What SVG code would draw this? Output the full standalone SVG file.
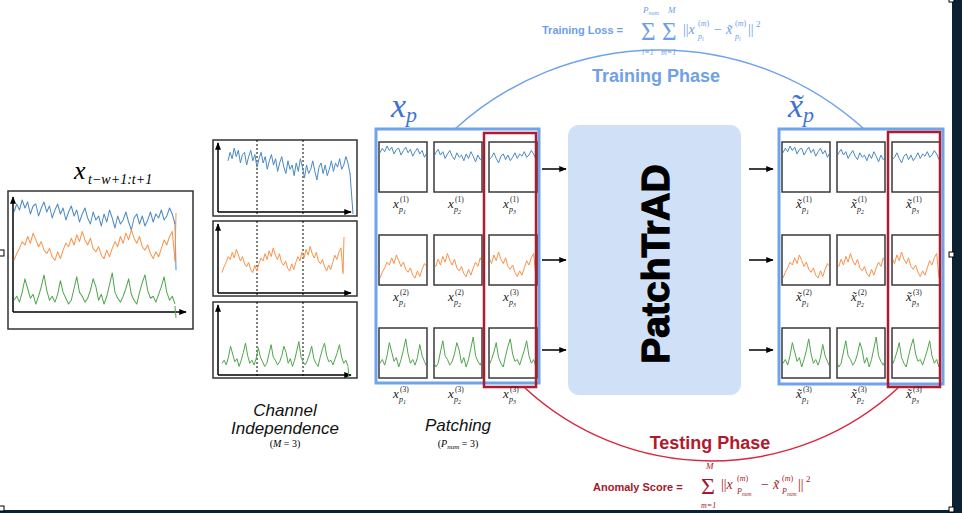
<svg xmlns="http://www.w3.org/2000/svg" xmlns:xlink="http://www.w3.org/1999/xlink" width="962" height="513" viewBox="0 0 962 513">
<style>
.ser{fill:none;stroke-width:1;vector-effect:non-scaling-stroke;stroke-linejoin:round}
.sb{stroke:#4a88c6}.so{stroke:#f9924a}.sg{stroke:#4ea64b}
.frame{fill:#fff;stroke:#333;stroke-width:1.5}
.pbox{fill:#fff;stroke:#3a3a3a;stroke-width:1.5}
.axis{stroke:#000;stroke-width:1.5;fill:none}
.dash{stroke:#000;stroke-width:1;stroke-dasharray:2,2}
.conn{stroke:#000;stroke-width:1.5;fill:none}
.mi{font-family:"Liberation Serif","DejaVu Serif",serif;font-style:italic}
.mr{font-family:"Liberation Serif","DejaVu Serif",serif}
.lab{font-family:"Liberation Serif","DejaVu Serif",serif;fill:#222}
.cap{font-family:"Liberation Sans",Arial,sans-serif;font-style:italic;font-size:17px;fill:#111}
.handle{fill:#fff;stroke:#000;stroke-width:1}
</style>
<defs>
<path id="sb" class="ser sb" d="M0,8 2,4 4,7 6,2 8,6 10,3 12,9 14,5 16,4 18,10 20,6 22,3 24,8 26,5 28,11 30,7 32,4 34,9 36,6 38,12 40,8 42,5 44,10 46,7 48,13 50,9 52,6 54,11 56,14 58,8 60,12 62,10 64,15 66,9 68,13 70,7 72,11 74,16 76,10 78,14 80,12 82,8 84,13 86,17 88,11 90,9 92,14 94,10 96,15 98,12 100,8 102,13 104,9 106,11 108,7 110,12 112,10 114,6 116,9 118,14"/>
<path id="so" class="ser so" d="M0,20 2,16 4,13 6,9 8,11 10,6 12,10 14,4 16,8 18,12 20,9 22,14 24,16 26,13 28,18 30,20 32,15 34,19 36,14 38,10 40,12 42,7 44,11 46,5 48,9 50,3 52,8 54,11 56,7 58,13 60,15 62,12 64,17 66,19 68,14 70,18 72,13 74,9 76,12 78,6 80,10 82,4 84,8 86,2 88,7 90,10 92,6 94,12 96,14 98,11 100,16 102,19 104,15 106,18 108,13 110,8 112,11 114,6 116,3 118,20"/>
<path id="sg" class="ser sg" d="M0,16 2,14 4,17 6,12 8,5 10,10 12,15 14,13 16,18 18,14 20,9 22,3 24,11 26,16 28,14 30,17 32,13 34,6 36,12 38,15 40,18 42,16 44,10 46,4 48,12 50,14 52,17 54,15 56,11 58,5 60,9 62,16 64,13 66,18 68,14 70,8 72,2 74,12 76,15 78,17 80,14 82,10 84,5 86,13 88,16 90,18 92,12 94,7 96,3 98,11 100,15 102,14 104,17 106,13 108,9 110,4 112,12 114,16 116,14 118,18"/>
<marker id="ah" viewBox="0 0 10 10" refX="9" refY="5" markerWidth="5" markerHeight="5" orient="auto"><path d="M0,1 L10,5 L0,9z" fill="#000"/></marker>
</defs>
<rect x="0" y="0" width="962" height="513" fill="#fff"/>

<!-- input series -->
<g id="input-series">
<rect class="frame" x="8" y="191" width="185" height="138"/>
<path class="axis" d="M13,312 V197" marker-end="url(#ah)"/>
<path class="axis" d="M13,312 H186" marker-end="url(#ah)"/>
<svg x="14" y="198" width="161" height="34" viewBox="0 1 118 17" preserveAspectRatio="none" overflow="visible"><use href="#sb"/></svg>
<svg x="14" y="228" width="161" height="34" viewBox="0 1 118 20" preserveAspectRatio="none" overflow="visible"><use href="#so"/></svg>
<svg x="14" y="271" width="161" height="35" viewBox="0 1 118 18" preserveAspectRatio="none" overflow="visible"><use href="#sg"/></svg>
<path d="M175,222 L176,270" stroke="#4a88c6" stroke-width="1"/>
<path d="M175,262 L176,213" stroke="#f9924a" stroke-width="1"/>
<path d="M175,306 L176,318" stroke="#4ea64b" stroke-width="1"/>
<text class="mi" x="74" y="179" font-size="26">x</text>
<text class="mi" x="88" y="184" font-size="14">t<tspan class="mr">−</tspan>w<tspan class="mr">+1:</tspan>t<tspan class="mr">+1</tspan></text>
</g>

<!-- channel independence -->
<g id="channel-independence">
<rect class="frame" x="213" y="140" width="144" height="76"/>
<rect class="frame" x="213" y="221" width="144" height="75"/>
<rect class="frame" x="213" y="302" width="144" height="76"/>
<path class="dash" d="M257,140 V216 M303,140 V216 M257,221 V296 M303,221 V296 M257,302 V378 M303,302 V378"/>
<path class="axis" d="M218,212 V143" marker-end="url(#ah)"/>
<path class="axis" d="M218,212 H351" marker-end="url(#ah)"/>
<path class="axis" d="M218,293 V224" marker-end="url(#ah)"/>
<path class="axis" d="M218,293 H351" marker-end="url(#ah)"/>
<path class="axis" d="M218,375 V305" marker-end="url(#ah)"/>
<path class="axis" d="M218,375 H351" marker-end="url(#ah)"/>
<svg x="228" y="146" width="122" height="36" viewBox="0 1 118 17" preserveAspectRatio="none" overflow="visible"><use href="#sb"/></svg>
<svg x="222" y="245" width="121" height="29" viewBox="0 1 118 20" preserveAspectRatio="none" overflow="visible"><use href="#so"/></svg>
<svg x="222" y="340" width="126" height="28" viewBox="0 1 118 18" preserveAspectRatio="none" overflow="visible"><use href="#sg"/></svg>
<path d="M350,173 L353,214" stroke="#4a88c6" stroke-width="1"/>
<path d="M343,274 L344,237" stroke="#f9924a" stroke-width="1"/>
<path d="M348,367 L349,378" stroke="#4ea64b" stroke-width="1"/>
<text class="cap" x="285" y="416" text-anchor="middle">Channel</text>
<text class="cap" x="285" y="434" text-anchor="middle">Independence</text>
<text class="mr" x="285" y="447" text-anchor="middle" font-size="10">(<tspan class="mi">M</tspan> = 3)</text>
</g>

<!-- input patches -->
<g id="input-patches">
<rect x="376" y="129" width="163" height="254" fill="none" stroke="#6fa3ec" stroke-width="3"/>
<text class="mi" x="391" y="117" font-size="34" fill="#3f72d6">x<tspan font-size="22" dy="5">p</tspan></text>
<rect class="pbox" x="379" y="142" width="48" height="50"/>
<rect class="pbox" x="434" y="142" width="48" height="50"/>
<rect class="pbox" x="489" y="142" width="48" height="50"/>
<rect class="pbox" x="379" y="235" width="48" height="50"/>
<rect class="pbox" x="434" y="235" width="48" height="50"/>
<rect class="pbox" x="489" y="235" width="48" height="50"/>
<rect class="pbox" x="379" y="328" width="48" height="50"/>
<rect class="pbox" x="434" y="328" width="48" height="50"/>
<rect class="pbox" x="489" y="328" width="48" height="50"/>
<svg x="380" y="143" width="46" height="48" viewBox="0 -0.65 39.33 42.4" preserveAspectRatio="none"><use href="#sb"/></svg>
<svg x="435" y="143" width="46" height="48" viewBox="39.33 -0.65 39.33 42.4" preserveAspectRatio="none"><use href="#sb"/></svg>
<svg x="490" y="143" width="46" height="48" viewBox="78.67 -0.65 39.33 42.4" preserveAspectRatio="none"><use href="#sb"/></svg>
<svg x="380" y="236" width="46" height="48" viewBox="0 -9.08 39.33 33.2" preserveAspectRatio="none"><use href="#so"/></svg>
<svg x="435" y="236" width="46" height="48" viewBox="39.33 -9.08 39.33 33.2" preserveAspectRatio="none"><use href="#so"/></svg>
<svg x="490" y="236" width="46" height="48" viewBox="78.67 -9.08 39.33 33.2" preserveAspectRatio="none"><use href="#so"/></svg>
<svg x="380" y="329" width="46" height="48" viewBox="0 -2.27 39.33 25.6" preserveAspectRatio="none"><use href="#sg"/></svg>
<svg x="435" y="329" width="46" height="48" viewBox="39.33 -2.27 39.33 25.6" preserveAspectRatio="none"><use href="#sg"/></svg>
<svg x="490" y="329" width="46" height="48" viewBox="78.67 -2.27 39.33 25.6" preserveAspectRatio="none"><use href="#sg"/></svg>
<rect x="484" y="133" width="52" height="254" fill="none" stroke="#ad1c2c" stroke-width="2.5"/>
<g class="lab">
<g transform="translate(403,208)"><text class="mi" x="-10" font-size="13">x</text><text class="mi" x="-4" y="4" font-size="8">p<tspan class="mr" font-size="6" dy="1.5">1</tspan></text><text x="-3" y="-6" font-size="7.5">(1)</text></g>
<g transform="translate(458,208)"><text class="mi" x="-10" font-size="13">x</text><text class="mi" x="-4" y="4" font-size="8">p<tspan class="mr" font-size="6" dy="1.5">2</tspan></text><text x="-3" y="-6" font-size="7.5">(1)</text></g>
<g transform="translate(513,208)"><text class="mi" x="-10" font-size="13">x</text><text class="mi" x="-4" y="4" font-size="8">p<tspan class="mr" font-size="6" dy="1.5">3</tspan></text><text x="-3" y="-6" font-size="7.5">(1)</text></g>
<g transform="translate(403,301)"><text class="mi" x="-10" font-size="13">x</text><text class="mi" x="-4" y="4" font-size="8">p<tspan class="mr" font-size="6" dy="1.5">1</tspan></text><text x="-3" y="-6" font-size="7.5">(2)</text></g>
<g transform="translate(458,301)"><text class="mi" x="-10" font-size="13">x</text><text class="mi" x="-4" y="4" font-size="8">p<tspan class="mr" font-size="6" dy="1.5">2</tspan></text><text x="-3" y="-6" font-size="7.5">(2)</text></g>
<g transform="translate(513,301)"><text class="mi" x="-10" font-size="13">x</text><text class="mi" x="-4" y="4" font-size="8">p<tspan class="mr" font-size="6" dy="1.5">3</tspan></text><text x="-3" y="-6" font-size="7.5">(3)</text></g>
<g transform="translate(403,398)"><text class="mi" x="-10" font-size="13">x</text><text class="mi" x="-4" y="4" font-size="8">p<tspan class="mr" font-size="6" dy="1.5">1</tspan></text><text x="-3" y="-6" font-size="7.5">(3)</text></g>
<g transform="translate(458,398)"><text class="mi" x="-10" font-size="13">x</text><text class="mi" x="-4" y="4" font-size="8">p<tspan class="mr" font-size="6" dy="1.5">2</tspan></text><text x="-3" y="-6" font-size="7.5">(3)</text></g>
<g transform="translate(513,398)"><text class="mi" x="-10" font-size="13">x</text><text class="mi" x="-4" y="4" font-size="8">p<tspan class="mr" font-size="6" dy="1.5">3</tspan></text><text x="-3" y="-6" font-size="7.5">(3)</text></g>
</g>
<text class="cap" x="458" y="431" text-anchor="middle">Patching</text>
<text class="mr" x="458" y="447" text-anchor="middle" font-size="10">(<tspan class="mi">P</tspan><tspan class="mi" font-size="7" dy="2">num</tspan><tspan dy="-2"> = 3)</tspan></text>
</g>

<!-- PatchTrAD -->
<g id="patchtrad">
<rect x="568" y="125" width="173" height="270" rx="11" fill="#cfe0f7"/>
<text transform="translate(669,264) rotate(-90)" text-anchor="middle" font-family="'Liberation Sans',Arial,sans-serif" font-weight="bold" font-size="39" fill="#000" stroke="#000" stroke-width="1.2">PatchTrAD</text>
</g>

<!-- output patches -->
<g id="output-patches">
<rect x="779" y="129" width="164" height="255" fill="none" stroke="#6fa3ec" stroke-width="3"/>
<text class="mi" x="788" y="117" font-size="34" fill="#3f72d6">x&#x303;<tspan font-size="22" dy="5">p</tspan></text>
<rect class="pbox" x="782" y="142" width="48" height="50"/>
<rect class="pbox" x="837" y="142" width="48" height="50"/>
<rect class="pbox" x="892" y="142" width="48" height="50"/>
<rect class="pbox" x="782" y="235" width="48" height="50"/>
<rect class="pbox" x="837" y="235" width="48" height="50"/>
<rect class="pbox" x="892" y="235" width="48" height="50"/>
<rect class="pbox" x="782" y="328" width="48" height="50"/>
<rect class="pbox" x="837" y="328" width="48" height="50"/>
<rect class="pbox" x="892" y="328" width="48" height="50"/>
<svg x="783" y="143" width="46" height="48" viewBox="0 -0.65 39.33 42.4" preserveAspectRatio="none"><use href="#sb"/></svg>
<svg x="838" y="143" width="46" height="48" viewBox="39.33 -0.65 39.33 42.4" preserveAspectRatio="none"><use href="#sb"/></svg>
<svg x="893" y="143" width="46" height="48" viewBox="78.67 -0.65 39.33 42.4" preserveAspectRatio="none"><use href="#sb"/></svg>
<svg x="783" y="236" width="46" height="48" viewBox="0 -9.08 39.33 33.2" preserveAspectRatio="none"><use href="#so"/></svg>
<svg x="838" y="236" width="46" height="48" viewBox="39.33 -9.08 39.33 33.2" preserveAspectRatio="none"><use href="#so"/></svg>
<svg x="893" y="236" width="46" height="48" viewBox="78.67 -9.08 39.33 33.2" preserveAspectRatio="none"><use href="#so"/></svg>
<svg x="783" y="329" width="46" height="48" viewBox="0 -2.27 39.33 25.6" preserveAspectRatio="none"><use href="#sg"/></svg>
<svg x="838" y="329" width="46" height="48" viewBox="39.33 -2.27 39.33 25.6" preserveAspectRatio="none"><use href="#sg"/></svg>
<svg x="893" y="329" width="46" height="48" viewBox="78.67 -2.27 39.33 25.6" preserveAspectRatio="none"><use href="#sg"/></svg>
<rect x="888" y="132" width="52" height="255" fill="none" stroke="#ad1c2c" stroke-width="2.5"/>
<g class="lab">
<g transform="translate(806,208)"><text class="mi" x="-10" font-size="13">x&#x303;</text><text class="mi" x="-4" y="4" font-size="8">p<tspan class="mr" font-size="6" dy="1.5">1</tspan></text><text x="-3" y="-6" font-size="7.5">(1)</text></g>
<g transform="translate(861,208)"><text class="mi" x="-10" font-size="13">x&#x303;</text><text class="mi" x="-4" y="4" font-size="8">p<tspan class="mr" font-size="6" dy="1.5">2</tspan></text><text x="-3" y="-6" font-size="7.5">(1)</text></g>
<g transform="translate(916,208)"><text class="mi" x="-10" font-size="13">x&#x303;</text><text class="mi" x="-4" y="4" font-size="8">p<tspan class="mr" font-size="6" dy="1.5">3</tspan></text><text x="-3" y="-6" font-size="7.5">(1)</text></g>
<g transform="translate(806,301)"><text class="mi" x="-10" font-size="13">x&#x303;</text><text class="mi" x="-4" y="4" font-size="8">p<tspan class="mr" font-size="6" dy="1.5">1</tspan></text><text x="-3" y="-6" font-size="7.5">(2)</text></g>
<g transform="translate(861,301)"><text class="mi" x="-10" font-size="13">x&#x303;</text><text class="mi" x="-4" y="4" font-size="8">p<tspan class="mr" font-size="6" dy="1.5">2</tspan></text><text x="-3" y="-6" font-size="7.5">(2)</text></g>
<g transform="translate(916,301)"><text class="mi" x="-10" font-size="13">x&#x303;</text><text class="mi" x="-4" y="4" font-size="8">p<tspan class="mr" font-size="6" dy="1.5">3</tspan></text><text x="-3" y="-6" font-size="7.5">(3)</text></g>
<g transform="translate(806,398)"><text class="mi" x="-10" font-size="13">x&#x303;</text><text class="mi" x="-4" y="4" font-size="8">p<tspan class="mr" font-size="6" dy="1.5">1</tspan></text><text x="-3" y="-6" font-size="7.5">(3)</text></g>
<g transform="translate(861,398)"><text class="mi" x="-10" font-size="13">x&#x303;</text><text class="mi" x="-4" y="4" font-size="8">p<tspan class="mr" font-size="6" dy="1.5">2</tspan></text><text x="-3" y="-6" font-size="7.5">(3)</text></g>
<g transform="translate(916,398)"><text class="mi" x="-10" font-size="13">x&#x303;</text><text class="mi" x="-4" y="4" font-size="8">p<tspan class="mr" font-size="6" dy="1.5">3</tspan></text><text x="-3" y="-6" font-size="7.5">(3)</text></g>
</g>
</g>

<!-- connectors -->
<g id="connectors">
<path class="conn" d="M542,169 H566" marker-end="url(#ah)"/>
<path class="conn" d="M542,260 H566" marker-end="url(#ah)"/>
<path class="conn" d="M542,350 H566" marker-end="url(#ah)"/>
<path class="conn" d="M749,169 H773" marker-end="url(#ah)"/>
<path class="conn" d="M749,260 H773" marker-end="url(#ah)"/>
<path class="conn" d="M749,350 H773" marker-end="url(#ah)"/>
<path d="M455,129 A304,304 0 0 1 864,129" fill="none" stroke="#6fa3ec" stroke-width="1.5"/>
<path d="M525,388 A275,275 0 0 0 898,388" fill="none" stroke="#d9283f" stroke-width="1.5"/>
</g>

<!-- phase labels -->
<g id="training-phase">
<text x="656" y="82" text-anchor="middle" font-family="'Liberation Sans',Arial,sans-serif" font-weight="bold" font-size="18" fill="#6fa1e6">Training Phase</text>
</g>
<g id="testing-phase">
<text x="710" y="449" text-anchor="middle" font-family="'Liberation Sans',Arial,sans-serif" font-weight="bold" font-size="18" fill="#b3192c">Testing Phase</text>
</g>

<!-- training loss formula -->
<g id="training-loss" fill="#6d9eeb">
<text x="542" y="34" font-family="'Liberation Sans',Arial,sans-serif" font-weight="bold" font-size="11">Training Loss =</text>
<text class="mr" x="641" y="40" font-size="25">Σ</text>
<text class="mr" x="662" y="40" font-size="25">Σ</text>
<text class="mi" x="643" y="13" font-size="9">P<tspan font-size="6" dy="2">num</tspan></text>
<text class="mi" x="642" y="55" font-size="8">i<tspan class="mr">=1</tspan></text>
<text class="mi" x="668" y="13" font-size="9">M</text>
<text class="mi" x="661" y="55" font-size="8">m<tspan class="mr">=1</tspan></text>
<text class="mr" x="683" y="34" font-size="14">||<tspan class="mi">x</tspan></text>
<text class="mr" x="698" y="26" font-size="8">(<tspan class="mi">m</tspan>)</text>
<text class="mi" x="698" y="39" font-size="8">p<tspan font-size="6" dy="2">i</tspan></text>
<text class="mr" x="714" y="34" font-size="14">−</text>
<text class="mi" x="726" y="34" font-size="14">x&#x303;</text>
<text class="mr" x="735" y="26" font-size="8">(<tspan class="mi">m</tspan>)</text>
<text class="mi" x="735" y="39" font-size="8">p<tspan font-size="6" dy="2">i</tspan></text>
<text class="mr" x="748" y="34" font-size="14">||</text>
<text class="mr" x="756" y="27" font-size="9">2</text>
</g>

<!-- anomaly score formula -->
<g id="anomaly-score" fill="#a5182b">
<text x="593" y="491" font-family="'Liberation Sans',Arial,sans-serif" font-weight="bold" font-size="11">Anomaly Score =</text>
<text class="mr" x="701" y="494" font-size="24">Σ</text>
<text class="mi" x="706" y="469" font-size="9">M</text>
<text class="mi" x="701" y="508" font-size="8">m<tspan class="mr">=1</tspan></text>
<text class="mr" x="721" y="489" font-size="14">||<tspan class="mi">x</tspan></text>
<text class="mr" x="737" y="481" font-size="8">(<tspan class="mi">m</tspan>)</text>
<text class="mi" x="737" y="494" font-size="8">P<tspan font-size="5.5" dy="2">num</tspan></text>
<text class="mr" x="761" y="489" font-size="14">−</text>
<text class="mi" x="773" y="489" font-size="14">x&#x303;</text>
<text class="mr" x="782" y="481" font-size="8">(<tspan class="mi">m</tspan>)</text>
<text class="mi" x="782" y="494" font-size="8">P<tspan font-size="5.5" dy="2">num</tspan></text>
<text class="mr" x="798" y="489" font-size="14">||</text>
<text class="mr" x="806" y="482" font-size="9">2</text>
</g>

<!-- frame edges -->
<rect x="952" y="0" width="10" height="513" fill="#0c2233"/>
<rect x="0" y="510" width="962" height="3" fill="#0c2233"/>
<rect class="handle" x="-1" y="250" width="5" height="6"/>
<rect class="handle" x="949" y="252" width="5" height="5"/>
<rect class="handle" x="949" y="-3" width="5" height="5"/>
<rect class="handle" x="949" y="507" width="5" height="5"/>
<rect class="handle" x="-1" y="506" width="5" height="5"/>
</svg>
